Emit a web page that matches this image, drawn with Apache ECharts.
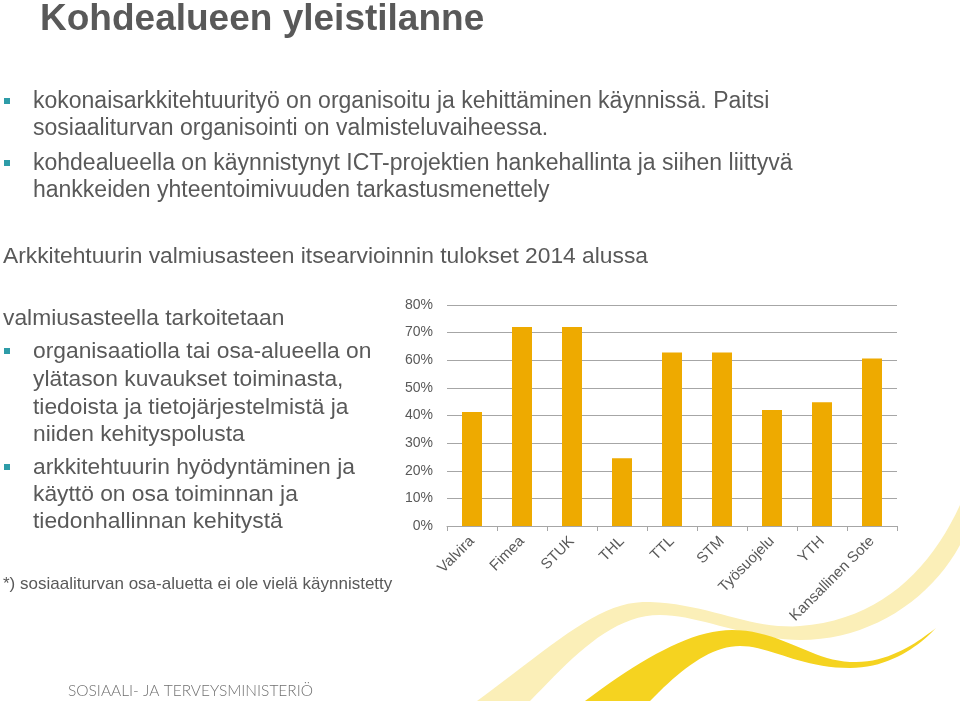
<!DOCTYPE html>
<html>
<head>
<meta charset="utf-8">
<script src="https://cdn.jsdelivr.net/npm/echarts@6/dist/echarts.min.js"></script>
<style>
html,body{margin:0;padding:0;background:#fff;}
#main{width:960px;height:701px;}
</style>
</head>
<body>
<div id="main"></div>
<script>
// ---- data ----
var categories = ['Valvira', 'Fimea', 'STUK', 'THL', 'TTL', 'STM', 'Työsuojelu', 'YTH', 'Kansallinen Sote'];
var readiness = [41.3, 72.0, 72.0, 24.5, 62.8, 62.8, 42.0, 44.8, 60.6];
var yTickLabels = ['0%', '10%', '20%', '30%', '40%', '50%', '60%', '70%', '80%'];

var titleText = 'Kohdealueen yleistilanne';
var topBullets = [
  ['kokonaisarkkitehtuurityö on organisoitu ja kehittäminen käynnissä. Paitsi', 'sosiaaliturvan organisointi on valmisteluvaiheessa.'],
  ['kohdealueella on käynnistynyt ICT-projektien hankehallinta ja siihen liittyvä', 'hankkeiden yhteentoimivuuden tarkastusmenettely']
];
var chartHeading = 'Arkkitehtuurin valmiusasteen itsearvioinnin tulokset 2014 alussa';
var leftHeading = 'valmiusasteella tarkoitetaan';
var leftBullets = [
  ['organisaatiolla tai osa-alueella on', 'ylätason kuvaukset toiminasta,', 'tiedoista ja tietojärjestelmistä ja', 'niiden kehityspolusta'],
  ['arkkitehtuurin hyödyntäminen ja', 'käyttö on osa toiminnan ja', 'tiedonhallinnan kehitystä']
];
var footnote = '*) sosiaaliturvan osa-aluetta ei ole vielä käynnistetty';
var logoText = 'SOSIAALI- JA TERVEYSMINISTERIÖ';

// ---- layout ----
var TXT = '#595959';
var BUL = '#2E9CA8';
var FONT = 'Liberation Sans, Arial, sans-serif';
var graphics = [];

function addText(str, x, y, size, opts) {
  opts = opts || {};
  graphics.push({
    type: 'text', x: x, y: y, z: 10,
    scaleX: opts.scaleX || 1,
    style: {
      text: str,
      fontFamily: opts.family || FONT,
      fontSize: size,
      fontWeight: opts.weight || 'normal',
      fill: opts.color || TXT,
      verticalAlign: 'middle',
      align: 'left'
    }
  });
}
function addBullet(cy) {
  graphics.push({ type: 'rect', z: 10, shape: { x: 4, y: cy - 3, width: 6, height: 6 }, style: { fill: BUL } });
}

// decorative swooshes: sample cubic bezier segments into polygons
function bezierPts(start, segs) {
  var pts = [start.slice()];
  var p0 = start;
  segs.forEach(function (s) {
    if (s.length === 2) { pts.push(s.slice()); p0 = s; return; }
    for (var i = 1; i <= 20; i++) {
      var t = i / 20, u = 1 - t;
      pts.push([
        u*u*u*p0[0] + 3*u*u*t*s[0] + 3*u*t*t*s[2] + t*t*t*s[4],
        u*u*u*p0[1] + 3*u*u*t*s[1] + 3*u*t*t*s[3] + t*t*t*s[5]
      ]);
    }
    p0 = [s[4], s[5]];
  });
  return pts;
}
graphics.push({
  type: 'polygon', z: 0, silent: true,
  shape: { points: bezierPts([477, 701], [
    [560, 640, 600, 600, 650, 602],
    [710, 604, 750, 630, 800, 626],
    [880, 620, 930, 570, 960, 505],
    [960, 545],
    [930, 600, 870, 640, 800, 640],
    [750, 640, 700, 615, 660, 615],
    [610, 615, 570, 660, 530, 701]
  ]) },
  style: { fill: '#FBEFB8' }
});
graphics.push({
  type: 'polygon', z: 0, silent: true,
  shape: { points: bezierPts([585, 701], [
    [640, 660, 690, 630, 732, 630],
    [780, 630, 810, 660, 850, 662],
    [890, 664, 920, 640, 936, 628],
    [920, 645, 890, 668, 850, 668],
    [800, 668, 770, 646, 740, 646],
    [710, 646, 680, 670, 650, 701]
  ]) },
  style: { fill: '#F5D320' }
});

addText(titleText, 40, 20.5, 36, { weight: 'bold', scaleX: 1.028 });

var topLineY = [[102, 129], [164, 191]];
topBullets.forEach(function (lines, i) {
  addBullet(topLineY[i][0] - 1);
  lines.forEach(function (l, j) { addText(l, 33, topLineY[i][j], 23); });
});

addText(chartHeading, 3, 257, 22.8);
addText(leftHeading, 3, 319, 22.8);

var leftLineY = [[352, 380, 408, 435], [468, 495, 522]];
leftBullets.forEach(function (lines, i) {
  addBullet(leftLineY[i][0] - 1);
  lines.forEach(function (l, j) { addText(l, 33, leftLineY[i][j], 22.8); });
});

addText(footnote, 3, 584, 17);
addText(logoText, 68, 691, 15.5, { family: 'Lato, sans-serif', weight: 300, color: '#707070' });

var chart = echarts.init(document.getElementById('main'), null, { renderer: 'canvas' });
chart.setOption({
  backgroundColor: '#ffffff',
  animation: false,
  grid: { left: 447, right: 63, top: 305, bottom: 175, containLabel: false },
  xAxis: {
    type: 'category',
    data: categories,
    axisLine: { show: true, lineStyle: { color: '#A6A6A6', width: 1 } },
    axisTick: { show: true, alignWithLabel: false, length: 5, lineStyle: { color: '#A6A6A6' } },
    axisLabel: { rotate: 45, fontSize: 15, color: TXT, fontFamily: FONT, margin: 13, interval: 0 }
  },
  yAxis: {
    type: 'value',
    min: 0, max: 80, interval: 10,
    axisLine: { show: false },
    axisTick: { show: false },
    axisLabel: {
      fontSize: 14, color: TXT, fontFamily: FONT, margin: 14,
      formatter: function (v) { return yTickLabels[Math.round(v / 10)]; }
    },
    splitLine: { show: true, lineStyle: { color: '#A6A6A6', width: 1 } }
  },
  series: [{
    type: 'bar',
    data: readiness,
    barWidth: '40%',
    itemStyle: { color: '#EEAA00' },
    z: 5
  }],
  graphic: graphics
});
</script>
</body>
</html>
